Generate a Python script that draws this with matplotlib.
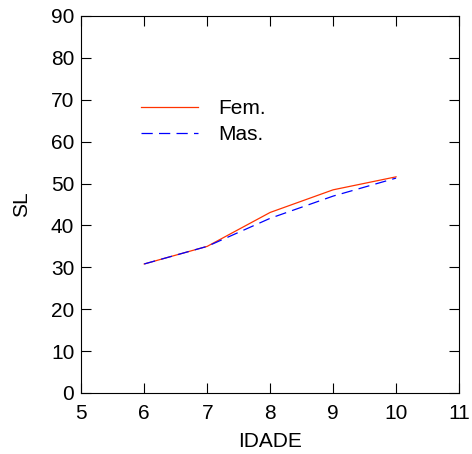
import matplotlib
matplotlib.use("Agg")
import matplotlib.pyplot as plt

idade = [6, 7, 8, 9, 10]
sl_fem = [30.8, 35.0, 43.1, 48.5, 51.6]
sl_mas = [30.8, 35.0, 41.7, 47.0, 51.3]

plt.rcParams["font.family"] = ["Liberation Sans", "DejaVu Sans"]

fig = plt.figure(figsize=(4.72, 4.54), dpi=100)
ax = fig.add_axes([0.1722, 0.1344, 0.8003, 0.8304])

ax.plot(idade, sl_fem, color="#ff3300", lw=0.9, label="Fem.")
ax.plot(idade, sl_mas, color="#0000ff", lw=0.9, dashes=(9, 5), label="Mas.")

ax.set_xlim(5, 11)
ax.set_ylim(0, 90)
ax.set_xticks(range(5, 12))
ax.set_yticks(range(0, 91, 10))
ax.tick_params(direction="in", length=7.5, width=0.8, top=True, right=True,
               labelsize=15)
ax.tick_params(axis="x", pad=8)
ax.tick_params(axis="y", pad=5)
for s in ax.spines.values():
    s.set_linewidth(0.8)

ax.set_xlabel("IDADE", fontsize=15, labelpad=6.5)
ax.set_ylabel("SL", fontsize=15, labelpad=14)

ax.legend(loc="upper left", bbox_to_anchor=(0.13, 0.807), frameon=False,
          fontsize=15, handlelength=2.75, handletextpad=0.95,
          labelspacing=0.34, borderpad=0)

fig.savefig("out.png", dpi=100)
